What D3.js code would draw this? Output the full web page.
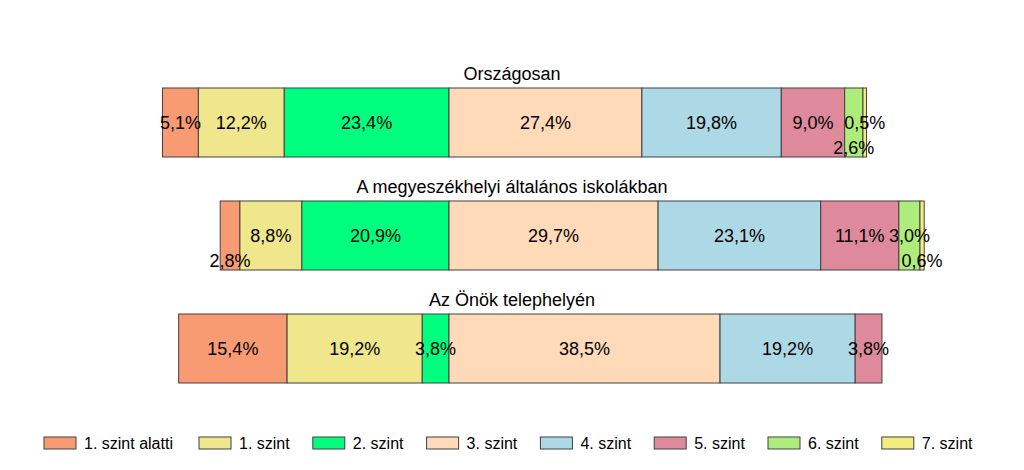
<!DOCTYPE html>
<html>
<head>
<meta charset="utf-8">
<script src="https://cdn.jsdelivr.net/npm/d3@7"></script>
<style>
  html, body { margin: 0; padding: 0; background: #fff; }
  svg { display: block; font-family: "Liberation Sans", Arial, sans-serif; }
</style>
</head>
<body>
<svg id="chart" width="1024" height="470"></svg>
<script>
// ---- data ----
const categories = ["Országosan", "A megyeszékhelyi általános iskolákban", "Az Önök telephelyén"];
const levels = ["1. szint alatti", "1. szint", "2. szint", "3. szint", "4. szint", "5. szint", "6. szint", "7. szint"];
const valuesOrszagos = [5.1, 12.2, 23.4, 27.4, 19.8, 9.0, 2.6, 0.5];
const valuesMegye = [2.8, 8.8, 20.9, 29.7, 23.1, 11.1, 3.0, 0.6];
const valuesTelephely = [15.4, 19.2, 3.8, 38.5, 19.2, 3.8, 0, 0];
const seriesValues = [valuesOrszagos, valuesMegye, valuesTelephely];
const levelColors = ["#F99B72", "#F0E68C", "#00FF7F", "#FFDAB9", "#ADD8E6", "#DE8A9C", "#AEEC7C", "#F2EE7E"];

// ---- layout ----
const svg = d3.select("#chart");
const zeroX = 449, pxPerPct = 7.04;
const x = d3.scaleLinear().domain([-50, 100]).range([zeroX - 50 * pxPerPct, zeroX + 100 * pxPerPct]);
const y = d3.scaleBand().domain(categories).range([88, 383]).paddingInner(44 / 113).paddingOuter(0);
const fmt = v => d3.format(".1f")(v).replace(".", ",") + "%";

// labels that Excel pushed down to avoid collisions (category index | level index)
const shifted = new Set(["0|6", "1|0", "1|7"]);

categories.forEach((cat, ci) => {
  const vals = seriesValues[ci];
  const leftSum = d3.sum(vals.slice(0, 3));
  let acc = -leftSum;
  const segs = vals.map((v, li) => {
    const s = { cat, ci, li, v, x0: acc, x1: acc + v };
    acc += v;
    return s;
  }).filter(s => s.v > 0);

  const g = svg.append("g");
  const top = y(cat), h = y.bandwidth();

  g.append("text")
    .attr("x", 512).attr("y", top - 8)
    .attr("text-anchor", "middle")
    .attr("font-size", 18).attr("fill", "#000")
    .text(cat);

  g.selectAll("rect").data(segs).join("rect")
    .attr("x", d => x(d.x0)).attr("y", top)
    .attr("width", d => x(d.x1) - x(d.x0)).attr("height", h)
    .attr("fill", d => levelColors[d.li])
    .attr("stroke", "#404040").attr("stroke-width", 1);

  g.selectAll("text.lbl").data(segs).join("text")
    .attr("class", "lbl")
    .attr("x", d => (x(d.x0) + x(d.x1)) / 2)
    .attr("y", d => top + h / 2 + (shifted.has(d.ci + "|" + d.li) ? 25 : 0))
    .attr("text-anchor", "middle").attr("dominant-baseline", "central")
    .attr("font-size", 18).attr("fill", "#000")
    .text(d => fmt(d.v));
});

// ---- legend ----
const legend = svg.append("g");
levels.forEach((lv, i) => {
  const lx = 44 + (i > 0 ? 155 + (i - 1) * 113.8 : 0);
  legend.append("rect")
    .attr("x", lx).attr("y", 437).attr("width", 32).attr("height", 12)
    .attr("fill", levelColors[i]).attr("stroke", "#404040").attr("stroke-width", 1);
  legend.append("text")
    .attr("x", lx + 40).attr("y", 443)
    .attr("dominant-baseline", "central")
    .attr("font-size", 16).attr("fill", "#000")
    .text(lv);
});
</script>
</body>
</html>
